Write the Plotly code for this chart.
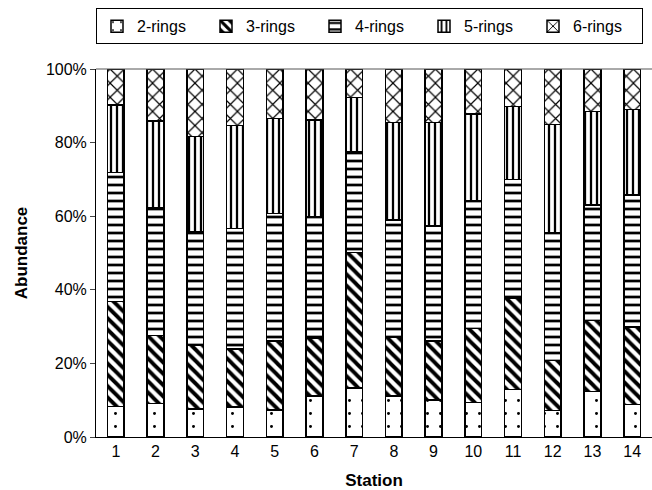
import plotly.graph_objects as go

stations = [str(i) for i in range(1, 15)]
rings2 = [8.3, 9.1, 7.6, 8.2, 7.3, 11.2, 13.3, 11.1, 10.0, 9.4, 12.9, 7.2, 12.3, 8.9]
rings3 = [28.5, 18.5, 17.4, 15.7, 18.8, 15.7, 36.9, 15.9, 16.1, 20.1, 24.8, 13.6, 19.4, 21.0]
rings4 = [35.1, 34.8, 30.9, 32.8, 34.7, 33.0, 27.2, 32.0, 31.2, 34.8, 32.3, 34.7, 31.3, 35.8]
rings5 = [18.3, 23.5, 25.7, 27.9, 25.8, 26.3, 14.9, 26.5, 28.2, 23.5, 19.8, 29.4, 25.5, 23.3]
rings6 = [9.8, 14.1, 18.4, 15.4, 13.4, 13.8, 7.7, 14.5, 14.5, 12.2, 10.2, 15.1, 11.5, 11.0]
y_ticks = [0, 20, 40, 60, 80, 100]
y_ticktext = ["0%", "20%", "40%", "60%", "80%", "100%"]

series = [
    ("2-rings", rings2, ".", 13, 0.04),
    ("3-rings", rings3, "\\", 8, 0.48),
    ("4-rings", rings4, "-", 8, 0.34),
    ("5-rings", rings5, "|", 6, 0.38),
    ("6-rings", rings6, "x", 10, 0.22),
]

fig = go.Figure()
for name, vals, shape, size, sol in series:
    fig.add_trace(go.Bar(
        name=name, x=stations, y=vals,
        marker=dict(
            color="white",
            line=dict(color="black", width=1.5),
            pattern=dict(shape=shape, fgcolor="black", bgcolor="white",
                         fgopacity=1, size=size, solidity=sol, fillmode="overlay"),
        ),
    ))

fig.update_layout(
    barmode="stack",
    barnorm="percent",
    bargap=0.58,
    width=652, height=490,
    margin=dict(l=96, r=0, t=69, b=53),
    plot_bgcolor="white", paper_bgcolor="white",
    font=dict(family="Liberation Sans, Arial, sans-serif", size=16, color="black"),
    legend=dict(
        orientation="h", x=0, xanchor="left", y=1.165, yanchor="top",
        bordercolor="black", borderwidth=1, font=dict(size=16),
        entrywidth=64, entrywidthmode="pixels",
        traceorder="normal",
    ),
    showlegend=True,
)
fig.update_xaxes(
    showline=True, linecolor="black", linewidth=1, ticks="",
    tickfont=dict(size=16),
    title=dict(text="<b>Station</b>", font=dict(size=17), standoff=14),
    showgrid=False,
)
fig.update_yaxes(
    range=[0, 100], tickvals=y_ticks, ticktext=y_ticktext,
    tickfont=dict(size=16),
    showline=True, linecolor="black", linewidth=1, ticks="outside", ticklen=5,
    showgrid=False, zeroline=False,
    title=dict(text="<b>Abundance</b>", font=dict(size=17), standoff=13),
)
fig.add_shape(type="line", xref="paper", yref="paper", x0=0, x1=1, y0=1, y1=1,
              line=dict(color="#555555", width=1))

fig.write_html("out.html")
